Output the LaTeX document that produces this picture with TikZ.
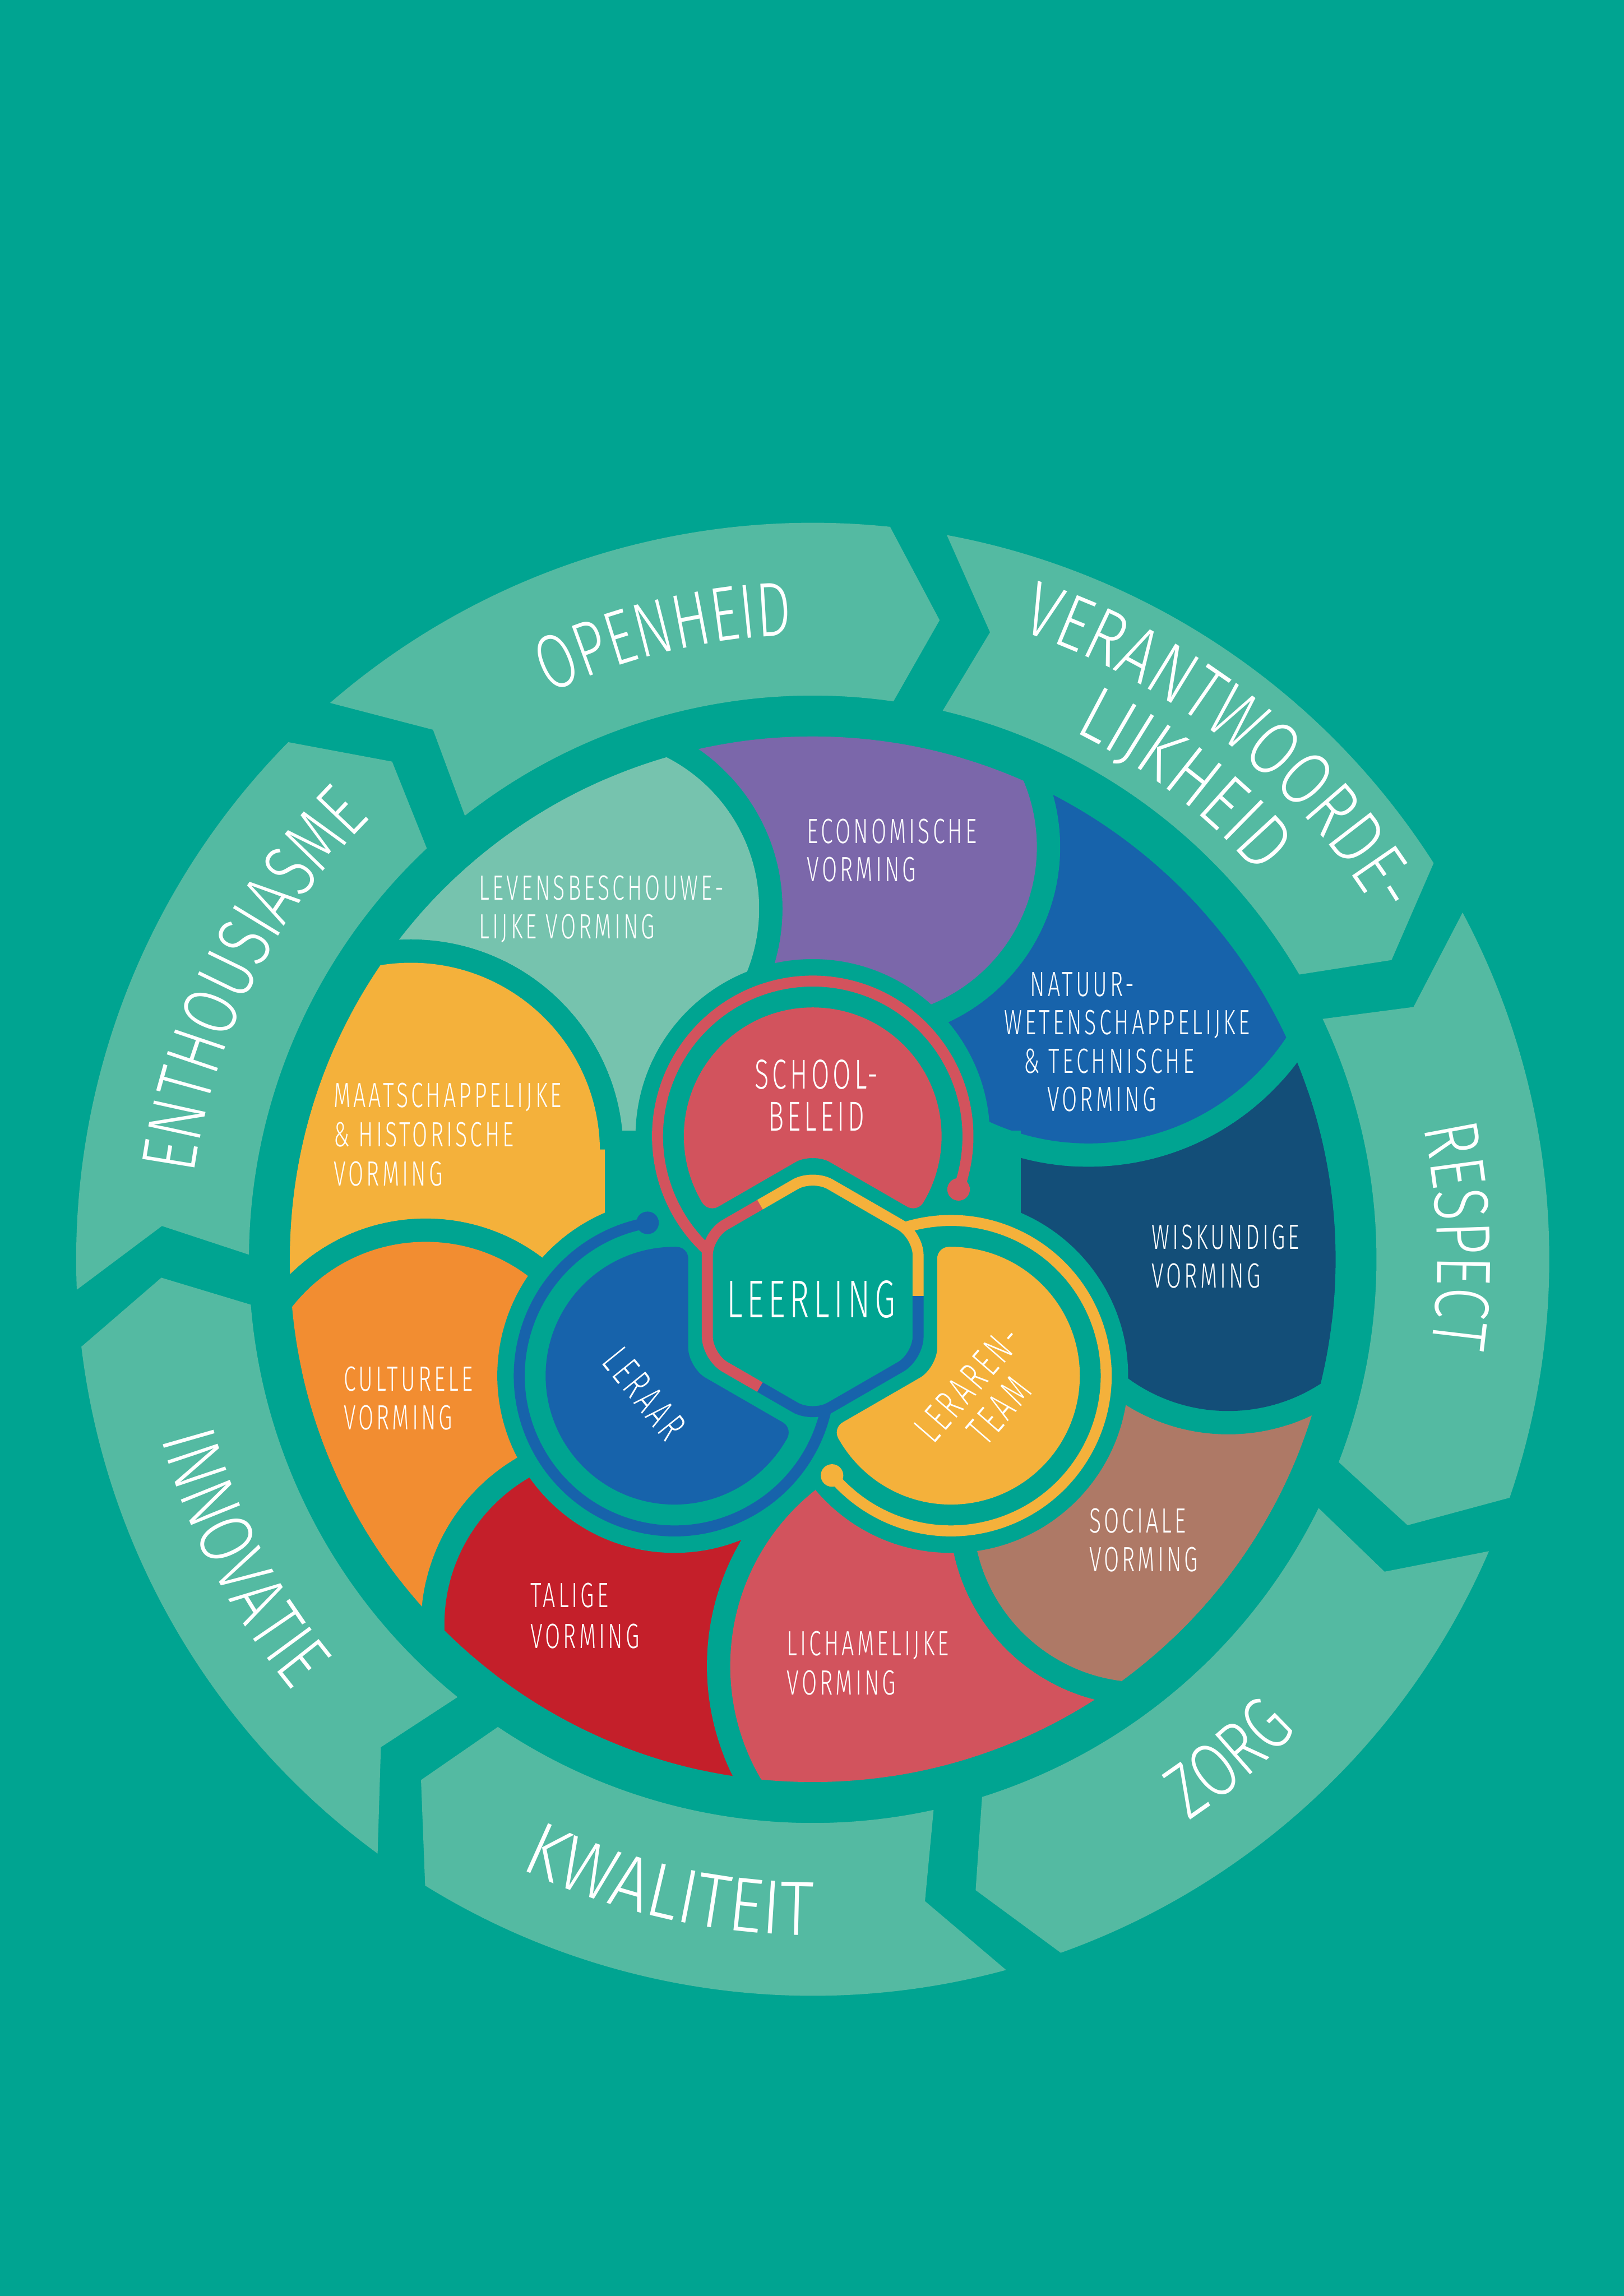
\documentclass[tikz,border=0pt]{standalone}
\usepackage{fontspec}
\usetikzlibrary{decorations.text}
\newfontfamily\lblfont[FakeStretch=0.63,LetterSpace=8]{Fira Sans Light}
\newfontfamily\bigA[FakeStretch=0.72]{Fira Sans Light}
\newfontfamily\bigB[FakeStretch=0.76]{Fira Sans Light}
\newfontfamily\bigC[FakeStretch=0.79]{Fira Sans Light}
\newfontfamily\bigD[FakeStretch=0.83]{Fira Sans Light}
\newfontfamily\bigE[FakeStretch=0.88]{Fira Sans Light}
\definecolor{cBg}{HTML}{00A491}
\definecolor{cArrow}{HTML}{54BAA2}
\definecolor{cLev}{HTML}{76C3AE}
\definecolor{cEcon}{HTML}{7B67AA}
\definecolor{cNat}{HTML}{1763AB}
\definecolor{cWisk}{HTML}{134E78}
\definecolor{cSoc}{HTML}{AE7966}
\definecolor{cLich}{HTML}{D2535D}
\definecolor{cTal}{HTML}{C41F2A}
\definecolor{cCult}{HTML}{F28D31}
\definecolor{cMaat}{HTML}{F4B13B}
\newcommand\lblsz{\lblfont\fontsize{20.7}{22.4}\selectfont}
\newcommand\midsz{\lblfont\fontsize{24.7}{24.2}\selectfont}
\newcommand\leersz{\lblfont\fontsize{31.4}{34}\selectfont}
\tikzset{
 lbl/.style={text=white,font=\lblsz,inner sep=0pt,anchor=base west},
 midlbl/.style={text=white,font=\midsz,inner sep=0pt},
 ringword/.style 2 args={decorate,decoration={text along path,text={|#1\fontsize{45.5}{48}\selectfont|#2},text align=center,text color=white}}
}
% #1 colour, #2 c, #3 d, #4 rho, #5 rim angle of own boundary,
% #6 c of ccw neighbour, #7 its d, #8 its dilated radius, #9 its rim angle
\newcommand\petal[9]{%
\begin{scope}
\clip (0,0) circle[radius=357];
\begin{scope}[even odd rule]
\clip (-800,-800) rectangle (800,900) (#6:#7) circle[radius=#8];
\fill[#1] (#2:#3) circle[radius=#4];
\fill[#1] (0,0) -- (#2:#3) -- (#5:420) arc[start angle=#5,end angle=#9,radius=420] -- (#6:#7) -- cycle;
\end{scope}
\end{scope}}
\begin{document}
\begin{tikzpicture}[x=0.3038mm,y=0.3038mm]
\fill[cBg] (-555,-708) rectangle (554,860);
\useasboundingbox (-555,-708) rectangle (554,860);
% outer arrows
\foreach \t in {135.4,83.97,32.54,-18.89,-70.32,-121.75,-173.18}{
 \fill[cArrow] ({\t+46.97}:503) arc[start angle={\t+46.97},end angle=\t,radius=503]
  -- ({\t-5.2}:445) -- ({\t-2.2}:385)
  arc[start angle={\t-2.2},end angle={\t+44.13},radius=385]
  -- ({\t+41.67}:445) -- cycle;
}
% petals
\petal{cEcon}{82.5}{284}{116}{68.5}{122.5}{284}{132}{108.5}
\petal{cNat}{52}{306}{162}{34}{82.5}{284}{132}{68.5}
\petal{cWisk}{2.5}{284}{116}{-11.5}{52}{306}{178}{34}
\petal{cSoc}{-37.5}{284}{116}{-51.5}{2.5}{284}{132}{-11.5}
\petal{cLich}{-70.8}{294}{153}{-88}{-37.5}{284}{132}{-51.5}
\petal{cTal}{-118.5}{284}{116}{-132.5}{-70.8}{294}{169}{-88}
\petal{cCult}{-158.5}{284}{116}{-172.5}{-118.5}{284}{132}{-132.5}
\begin{scope}
\clip (0,0) circle[radius=357];
\begin{scope}[even odd rule]
\clip (-800,-800) rectangle (800,900) (165:284) circle[radius=145];
\fill[cLev] (122.5:284) circle[radius=116];
\fill[cLev] (0,0) -- (122.5:284) -- (108.5:420) arc[start angle=108.5,end angle=151,radius=420] -- (165:284) -- (-150,75) -- (-120,75) -- cycle;
\end{scope}
\end{scope}
\begin{scope}
\clip (0,0) circle[radius=357];
\begin{scope}[even odd rule]
\clip (-800,-800) rectangle (800,900) (201.5:284) circle[radius=132];
\fill[cMaat] (165:284) circle[radius=129];
\fill[cMaat] (0,0) -- (-120,75) -- (-150,75) -- (165:284) -- (151:420) arc[start angle=151,end angle=187.5,radius=420] -- (201.5:284) -- cycle;
\end{scope}
\end{scope}
% central cover
\begin{scope}[shift={(0,-25)}]
\fill[cBg] (0,109) circle[radius=121] (210:109) circle[radius=121] (330:109) circle[radius=121];
\end{scope}
\fill[cBg] (-142,20) rectangle (142,88);
% central figure (centred on the hexagon)
\begin{scope}[shift={(0,-25)}]
\begin{scope}[even odd rule]
\clip (-400,-400) rectangle (400,400) [rounded corners=5.47mm] (30:107.4) -- (90:107.4) -- (150:107.4) -- (210:107.4) -- (270:107.4) -- (330:107.4) -- cycle;
\fill[cLich] (0,109) circle[radius=80];
\draw[cLich,line width=4.86mm] (0,109) circle[radius=80];
\fill[cNat] (210:109) circle[radius=80];
\draw[cNat,line width=4.86mm] (210:109) circle[radius=80];
\fill[cMaat] (330:109) circle[radius=80];
\draw[cMaat,line width=4.86mm] (330:109) circle[radius=80];
\end{scope}
\foreach \c/\p in {cLich/{(0,109)},cNat/{(210:109)},cMaat/{(330:109)}}{
 \begin{scope}
 \clip \p circle[radius=80];
 \draw[\c,line width=4.86mm,rounded corners=5.47mm] (30:107.4) -- (90:107.4) -- (150:107.4) -- (210:107.4) -- (270:107.4) -- (330:107.4) -- cycle;
 \end{scope}
}
\fill[cLich] (44.67:96.45) circle[radius=8] (135.33:96.45) circle[radius=8];
\fill[cNat] (164.67:96.45) circle[radius=8] (255.33:96.45) circle[radius=8];
\fill[cMaat] (284.67:96.45) circle[radius=8] (15.33:96.45) circle[radius=8];
\foreach \c/\a in {cLich/180,cNat/300,cMaat/60}{
 \begin{scope}
 \clip (0,0) -- ({\a-60}:300) -- (\a:300) -- ({\a+60}:300) -- cycle;
 \draw[\c,line width=2.28mm,rounded corners=4.2mm] (30:83.1) -- (90:83.1) -- (150:83.1) -- (210:83.1) -- (270:83.1) -- (330:83.1) -- cycle;
 \end{scope}
}
\draw[cLich,line width=2.28mm] (0,109) ++(227.2:106) arc[start angle=227.2,end angle=-20,radius=106];
\fill[cLich] (0,109) ++(-20:106) circle[radius=7.7];
\draw[cNat,line width=2.28mm] (210:109) ++(347.2:106) arc[start angle=347.2,end angle=100,radius=106];
\fill[cNat] (210:109) ++(100:106) circle[radius=7.7];
\draw[cMaat,line width=2.28mm] (330:109) ++(107.2:106) arc[start angle=107.2,end angle=-140,radius=106];
\fill[cMaat] (330:109) ++(-140:106) circle[radius=7.7];
\end{scope}
% petal labels
\node[lbl] (lev1) at (-228,245.3) {LEVENSBESCHOUWE-};
\node[lbl] (lev2) at (-228,219) {LIJKE VORMING};
\node[lbl] (eco1) at (-4,284.1) {ECONOMISCHE};
\node[lbl] (eco2) at (-4,258) {VORMING};
\node[lbl] (nat1) at (148.3,179.7) {NATUUR-};
\node[lbl] (nat2) at (130.6,153.4) {WETENSCHAPPELIJKE};
\node[lbl] (nat3) at (144,127.1) {\& TECHNISCHE};
\node[lbl] (nat4) at (160,101) {VORMING};
\node[lbl] (wis1) at (231.2,7) {WISKUNDIGE};
\node[lbl] (wis2) at (231.2,-19.7) {VORMING};
\node[lbl] (soc1) at (188.6,-186.8) {SOCIALE};
\node[lbl] (soc2) at (188.6,-213.2) {VORMING};
\node[lbl] (lic1) at (-17.8,-270.8) {LICHAMELIJKE};
\node[lbl] (lic2) at (-17.8,-297.3) {VORMING};
\node[lbl] (tal1) at (-193,-237.7) {TALIGE};
\node[lbl] (tal2) at (-193,-265.7) {VORMING};
\node[lbl] (cul1) at (-320.5,-89.9) {CULTURELE};
\node[lbl] (cul2) at (-320.5,-116.2) {VORMING};
\node[lbl] (maa1) at (-327.3,103.6) {MAATSCHAPPELIJKE};
\node[lbl] (maa2) at (-327.3,76.8) {\& HISTORISCHE};
\node[lbl] (maa3) at (-327.3,50) {VORMING};
% central labels
\node[midlbl,anchor=base] (sch1) at (2.6,116.5) {SCHOOL-};
\node[midlbl,anchor=base] (sch2) at (2.6,87.6) {BELEID};
\node[text=white,font=\leersz,inner sep=0pt,anchor=base] (leer) at (-1.2,-39.7) {LEERLING};
\node[midlbl,anchor=center,rotate=-51] (lrr) at (-115,-91.8) {LERAAR};
\node[midlbl,anchor=center,rotate=49,align=center] (team) at (116.5,-94) {LERAREN-\\TEAM};
% ring words
\path[ringword={\bigB}{ENTHOUSIASME}] (213.6:426.5) arc[start angle=213.6,end angle=93.6,radius=426.5];
\path[ringword={\bigA}{OPENHEID}] (163.4:426.5) arc[start angle=163.4,end angle=43.4,radius=426.5];
\path[ringword={\bigC}{VERANTWOORDE-}] (111.5:452) arc[start angle=111.5,end angle=-8.5,radius=452];
\path[ringword={\bigD}{LIJKHEID}] (112.2:402) arc[start angle=112.2,end angle=-7.8,radius=402];
\path[ringword={\bigB}{RESPECT}] (62.1:426.5) arc[start angle=62.1,end angle=-57.9,radius=426.5];
\path[ringword={\bigB}{ZORG}] (-110.2:461.5) arc[start angle=-110.2,end angle=9.8,radius=461.5];
\path[ringword={\bigE}{KWALITEIT}] (-162.8:461.5) arc[start angle=-162.8,end angle=-42.8,radius=461.5];
\path[ringword={\bigC}{INNOVATIE}] (147.5:461.5) arc[start angle=147.5,end angle=267.5,radius=461.5];
\end{tikzpicture}
\end{document}
